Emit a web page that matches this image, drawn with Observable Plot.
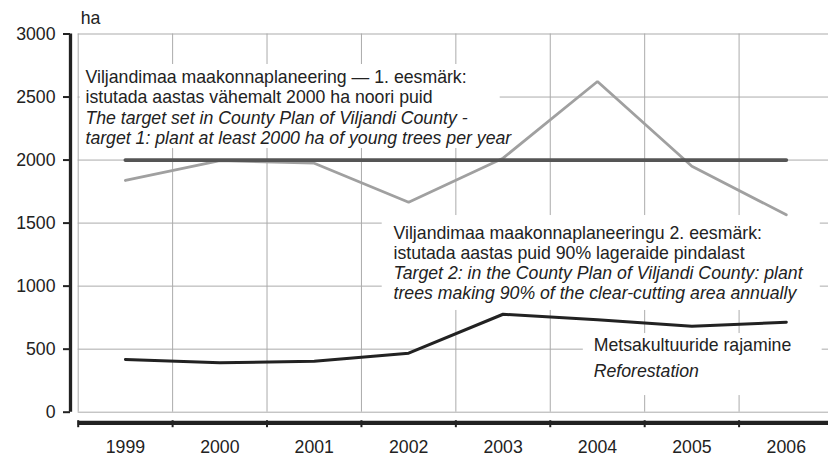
<!DOCTYPE html>
<html>
<head>
<meta charset="utf-8">
<script src="https://cdn.jsdelivr.net/npm/d3@7"></script>
<script src="https://cdn.jsdelivr.net/npm/@observablehq/plot@0.6"></script>
<style>
  html, body { margin: 0; padding: 0; background: #fff; }
  #chart { width: 828px; height: 456px; }
</style>
</head>
<body>
<div id="chart"></div>
<script>
// ---- Data ----
const years = [1999, 2000, 2001, 2002, 2003, 2004, 2005, 2006];
const target2 = [1838, 1996, 1975, 1666, 2015, 2623, 1951, 1566];   // grey line
const target1 = [2000, 2000, 2000, 2000, 2000, 2000, 2000, 2000];   // flat target line
const reforestation = [418, 392, 405, 468, 777, 733, 682, 714];     // black line
const yTicks = [0, 500, 1000, 1500, 2000, 2500, 3000];
const unitLabel = "ha";

const ann1a = "Viljandimaa maakonnaplaneering — 1. eesmärk:\nistutada aastas vähemalt 2000 ha noori puid";
const ann1b = "The target set in County Plan of Viljandi County -\ntarget 1: plant at least 2000 ha of young trees per year";
const ann2a = "Viljandimaa maakonnaplaneeringu 2. eesmärk:\nistutada aastas puid 90% lageraide pindalast";
const ann2b = "Target 2: in the County Plan of Viljandi County: plant\ntrees making 90% of the clear-cutting area annually";
const ann3a = "Metsakultuuride rajamine";
const ann3b = "Reforestation";

// ---- Derived tables ----
const boundaries = [years[0] - 0.5, ...years.map(y => y + 0.5)];
const xMin = boundaries[0], xMax = boundaries[boundaries.length - 1];
const rows = years.map((y, i) => ({year: y, t1: target1[i], t2: target2[i], ref: reforestation[i]}));
const boxes = [
  {x1: 1998.52, x2: 2002.97, y1: 2092, y2: 2758},
  {x1: 2001.72, x2: 2006.36, y1: 807, y2: 1560},
  {x1: 2003.85, x2: 2006.38, y1: 132, y2: 624}
];

const FS = 17.7;
const FONT = "Liberation Sans, Arial, Helvetica, sans-serif";
const grid = "#ababab";
const ink = "#222";

const chart = Plot.plot({
  width: 828,
  height: 456,
  marginTop: 33.5,
  marginBottom: 44.3,
  marginLeft: 77.7,
  marginRight: 0,
  style: {fontFamily: FONT, fontSize: FS + "px", color: ink, background: "#fff"},
  x: {type: "linear", domain: [xMin, xMax], range: [77.7, 833], axis: null},
  y: {domain: [0, 3000], axis: null},
  marks: [
    // gridlines / frame
    Plot.ruleY(yTicks, {x1: xMin, x2: xMax, stroke: grid, strokeWidth: 1}),
    Plot.ruleX(boundaries, {y1: 0, y2: 3000, stroke: grid, strokeWidth: 1}),
    // white annotation backgrounds
    Plot.rect(boxes, {x1: "x1", x2: "x2", y1: "y1", y2: "y2", fill: "#fff"}),
    // series
    Plot.line(rows, {x: "year", y: "t2", stroke: "#a0a0a0", strokeWidth: 2.8, strokeLinejoin: "miter"}),
    Plot.line(rows, {x: "year", y: "t1", stroke: "#555", strokeWidth: 3.8}),
    Plot.line(rows, {x: "year", y: "ref", stroke: ink, strokeWidth: 3, strokeLinejoin: "miter"}),
    // annotations
    Plot.text([ann1a], {x: 1998.577, y: 2585, text: d => d, textAnchor: "start", lineAnchor: "middle", lineHeight: 1.15, fill: ink, fontSize: FS}),
    Plot.text([ann1b], {x: 1998.577, y: 2258, text: d => d, textAnchor: "start", lineAnchor: "middle", lineHeight: 1.13, fill: ink, fontSize: FS, fontStyle: "italic"}),
    Plot.text([ann2a], {x: 2001.84, y: 1344, text: d => d, textAnchor: "start", lineAnchor: "middle", lineHeight: 1.15, fill: ink, fontSize: FS}),
    Plot.text([ann2b], {x: 2001.84, y: 1025, text: d => d, textAnchor: "start", lineAnchor: "middle", lineHeight: 1.1, fill: ink, fontSize: FS, fontStyle: "italic"}),
    Plot.text([ann3a], {x: 2003.96, y: 529, text: d => d, textAnchor: "start", lineAnchor: "middle", fill: ink, fontSize: FS}),
    Plot.text([ann3b], {x: 2003.96, y: 325, text: d => d, textAnchor: "start", lineAnchor: "middle", fill: ink, fontSize: FS, fontStyle: "italic"}),
    // y axis
    Plot.ruleX([xMin], {y1: 0, y2: 3000, dx: -7.7, stroke: ink, strokeWidth: 3.3}),
    Plot.axisY({ticks: yTicks, tickSize: 7, tickPadding: 8, dx: -7.7, stroke: ink, strokeWidth: 2, fill: ink, fontSize: FS, tickFormat: d => String(d), label: null}),
    Plot.text([unitLabel], {frameAnchor: "top-left", dx: 2.5, dy: -15.5, textAnchor: "start", lineAnchor: "middle", fill: ink, fontSize: FS}),
    // x axis
    Plot.ruleY([0], {x1: xMin, x2: xMax, dy: 10.6, stroke: ink, strokeWidth: 4.3}),
    Plot.axisX({ticks: boundaries, tickSize: 7, dy: 8.5, stroke: ink, strokeWidth: 2, tickFormat: () => "", label: null}),
    Plot.axisX({ticks: years, tickSize: 0, tickPadding: 28, fill: ink, fontSize: FS, tickFormat: d => String(d), label: null})
  ]
});

document.getElementById("chart").appendChild(chart);
</script>
</body>
</html>
